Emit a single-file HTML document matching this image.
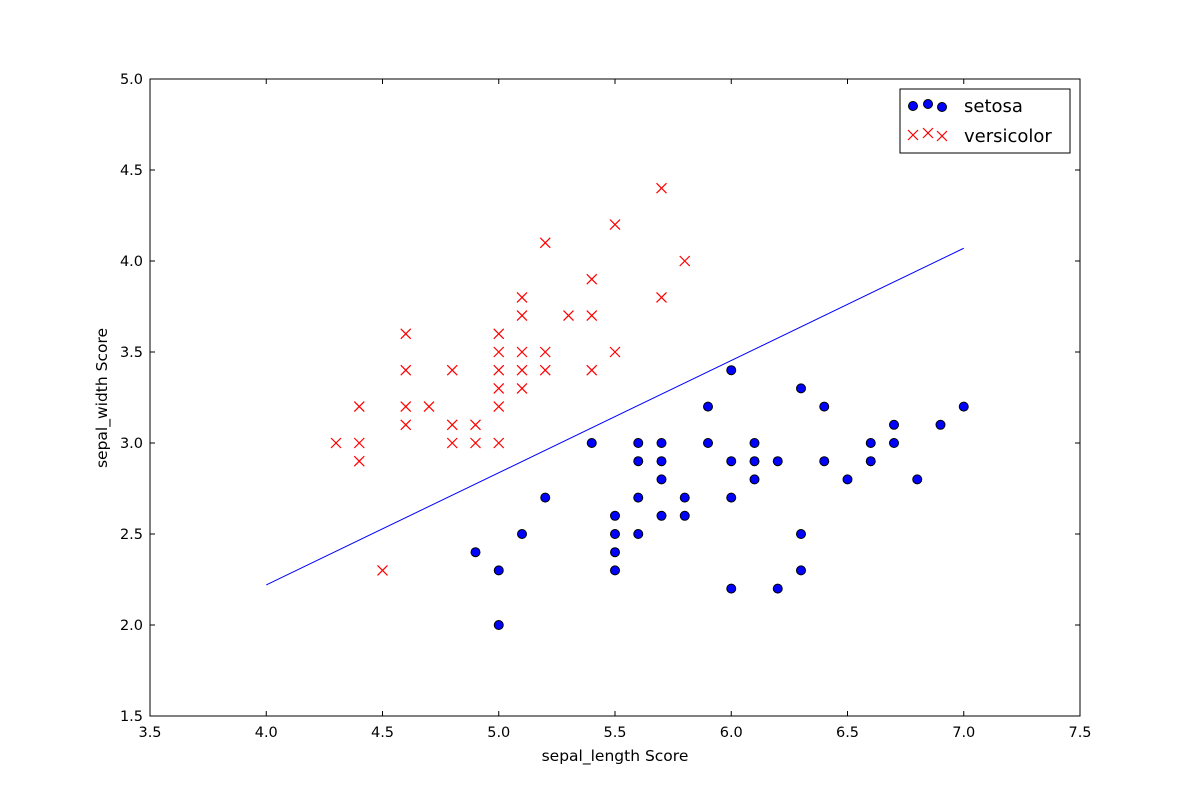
<!DOCTYPE html>
<html><head><meta charset="utf-8">
<style>body{margin:0;background:#fff}svg{display:block;font-family:"DejaVu Sans","Liberation Sans",sans-serif}</style>
</head><body>
<svg id="s" width="1200" height="796" xmlns="http://www.w3.org/2000/svg">
<rect x="0" y="0" width="1200" height="796" fill="#fff"/>
<g id="pts"></g>
<rect x="150" y="79" width="930" height="637" fill="none" stroke="#000" stroke-width="1"/>
<g id="ticks" stroke="#000" stroke-width="1"></g>
<g id="labels" font-size="14.5" fill="#000"></g>
<text x="615" y="761" font-size="15.5" text-anchor="middle">sepal_length Score</text>
<text transform="translate(107,398) rotate(-90)" font-size="15.5" text-anchor="middle">sepal_width Score</text>
<rect x="900" y="89" width="170" height="64" fill="#fff" stroke="#000" stroke-width="1"/>
<g stroke="#000" fill="#0000ff"><circle cx="913" cy="106" r="4.5"/><circle cx="928" cy="104" r="4.5"/><circle cx="942" cy="107" r="4.5"/></g>
<g stroke="#f00" stroke-width="1.2" id="legx"></g>
<text x="964" y="112" font-size="18">setosa</text>
<text x="964" y="142" font-size="18">versicolor</text>
</svg>
<script>
var X=function(x){return 150+(x-3.5)*232.5},Y=function(y){return 716-(y-1.5)*182};
var ns="http://www.w3.org/2000/svg";
function el(p,t,a){var e=document.createElementNS(ns,t);for(var k in a)e.setAttribute(k,a[k]);p.appendChild(e);return e}
var pts=document.getElementById('pts');
var red=[[4.3,3.0],[4.4,3.2],[4.4,3.0],[4.4,2.9],[4.5,2.3],[4.6,3.6],[4.6,3.4],[4.6,3.2],[4.6,3.1],[4.7,3.2],[4.8,3.4],[4.8,3.1],[4.8,3.0],[4.9,3.1],[4.9,3.0],[5.0,3.6],[5.0,3.5],[5.0,3.4],[5.0,3.3],[5.0,3.2],[5.0,3.0],[5.1,3.8],[5.1,3.7],[5.1,3.5],[5.1,3.4],[5.1,3.3],[5.2,4.1],[5.2,3.5],[5.2,3.4],[5.3,3.7],[5.4,3.9],[5.4,3.7],[5.4,3.4],[5.5,4.2],[5.5,3.5],[5.7,4.4],[5.7,3.8],[5.8,4.0]];
var blue=[[5.4,3.0],[5.6,3.0],[5.7,3.0],[5.9,3.2],[5.9,3.0],[6.0,3.4],[6.0,2.9],[6.0,2.7],[6.0,2.2],[6.1,3.0],[6.1,2.9],[6.1,2.8],[6.2,2.9],[6.2,2.2],[6.3,3.3],[6.3,2.5],[6.3,2.3],[6.4,3.2],[6.4,2.9],[6.5,2.8],[6.6,3.0],[6.6,2.9],[6.7,3.1],[6.7,3.0],[6.8,2.8],[6.9,3.1],[7.0,3.2],[5.6,2.9],[5.6,2.7],[5.6,2.5],[5.7,2.9],[5.7,2.8],[5.7,2.6],[5.8,2.7],[5.8,2.6],[5.5,2.6],[5.5,2.5],[5.5,2.4],[5.5,2.3],[5.2,2.7],[5.1,2.5],[4.9,2.4],[5.0,2.3],[5.0,2.0]];
function cross(p,x,y){el(p,'line',{x1:x-5,y1:y-5,x2:x+5,y2:y+5,stroke:'#f00','stroke-width':1.2});el(p,'line',{x1:x-5,y1:y+5,x2:x+5,y2:y-5,stroke:'#f00','stroke-width':1.2});}
red.forEach(function(d){cross(pts,X(d[0]),Y(d[1]))});
blue.forEach(function(d){el(pts,'circle',{cx:X(d[0]),cy:Y(d[1]),r:4.5,fill:'#0000ff',stroke:'#000','stroke-width':1})});
el(pts,'line',{x1:X(4.0),y1:Y(2.22),x2:X(7.0),y2:Y(4.07),stroke:'#0000ff','stroke-width':1});
var lx=document.getElementById('legx');[913,928,942].forEach(function(x,i){cross(lx,x,[135,133,136][i])});
var tk=document.getElementById('ticks'),lb=document.getElementById('labels');
for(var i=0;i<=8;i++){var v=3.5+i*0.5,x=X(v);
el(tk,'line',{x1:x,y1:716,x2:x,y2:711});el(tk,'line',{x1:x,y1:79,x2:x,y2:84});
var t=el(lb,'text',{x:x,y:737,'text-anchor':'middle'});t.textContent=v.toFixed(1);}
for(var i=0;i<=7;i++){var v=1.5+i*0.5,y=Y(v);
el(tk,'line',{x1:150,y1:y,x2:155,y2:y});el(tk,'line',{x1:1080,y1:y,x2:1075,y2:y});
var t=el(lb,'text',{x:143,y:y+5,'text-anchor':'end'});t.textContent=v.toFixed(1);}
</script>
</body></html>
